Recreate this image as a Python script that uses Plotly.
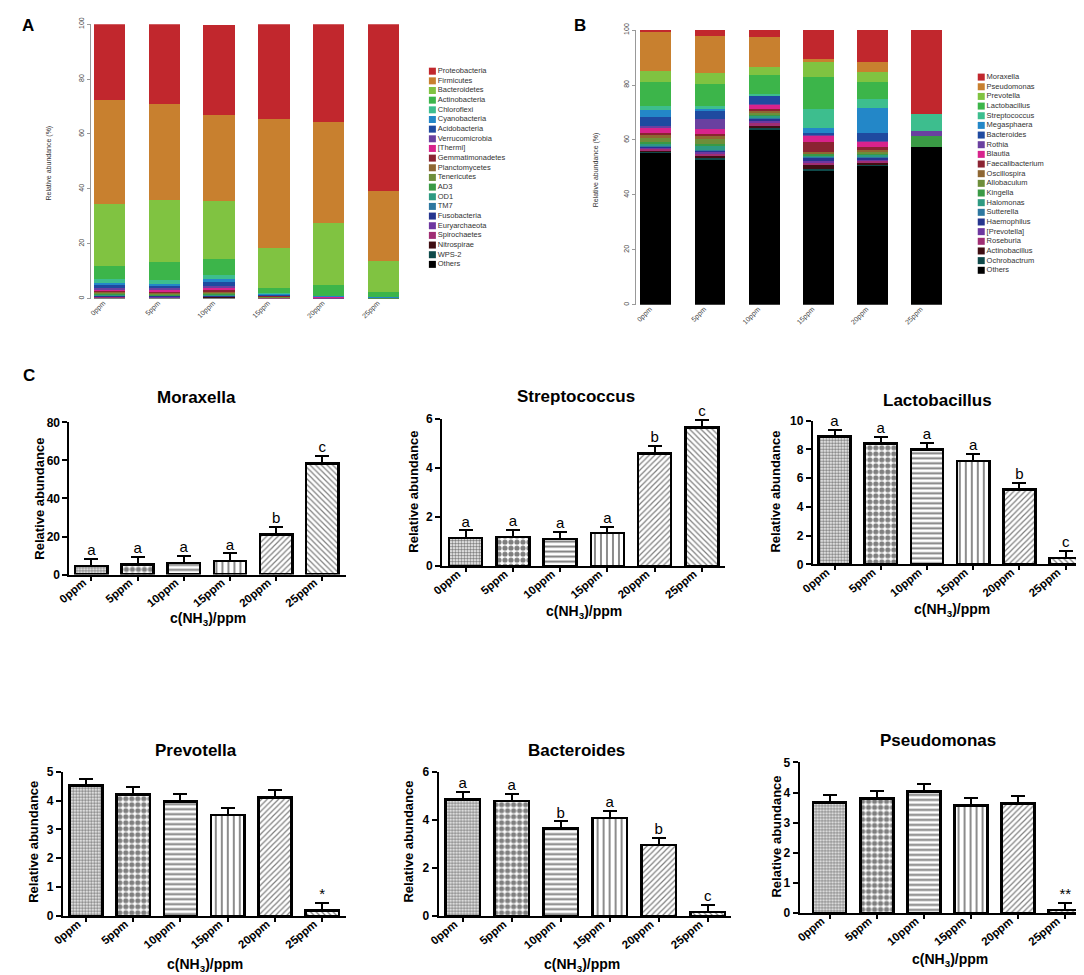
import plotly.graph_objects as go

W, H = 1084, 975

groups = ['0ppm', '5ppm', '10ppm', '15ppm', '20ppm', '25ppm']

# Panel A: phylum level relative abundance (%), listed top of stack first
phyla = ['Proteobacteria', 'Firmicutes', 'Bacteroidetes', 'Actinobacteria', 'Chloroflexi',
         'Cyanobacteria', 'Acidobacteria', 'Verrucomicrobia', '[Thermi]', 'Gemmatimonadetes',
         'Planctomycetes', 'Tenericutes', 'AD3', 'OD1', 'TM7', 'Fusobacteria', 'Euryarchaeota',
         'Spirochaetes', 'Nitrospirae', 'WPS-2', 'Others']
phylum_colors = ['#c1272d', '#c8802f', '#80c341', '#3cb54a', '#3dbe8e', '#2387c8', '#1f4aa0',
                 '#6a40a0', '#d8238c', '#8b2332', '#8e6733', '#6e8e3a', '#3a9a45', '#2e9a82',
                 '#2d77a0', '#26358f', '#6e37a0', '#a02e73', '#3f0e12', '#0f4a4a', '#000000']
phyla_0ppm = [27.8, 37.7, 22.5, 4.7, 1.5, 1.0, 0.8, 0.6, 0.5, 0.5, 0.4, 0.3, 0.3, 0.2, 0.2, 0.2, 0.2, 0.1, 0.1, 0.1, 0.3]
phyla_5ppm = [29.0, 34.9, 22.6, 6.9, 1.2, 0.6, 1.0, 0.7, 0.6, 0.4, 0.4, 0.3, 0.2, 0.2, 0.1, 0.2, 0.2, 0.1, 0.1, 0.1, 0.2]
phyla_10ppm = [32.9, 31.2, 21.4, 5.7, 1.6, 0.9, 1.6, 0.7, 0.6, 0.6, 0.5, 0.4, 0.3, 0.2, 0.2, 0.2, 0.1, 0.1, 0.3, 0.1, 0.2]
phyla_15ppm = [34.4, 47.3, 14.5, 1.9, 0.2, 0.3, 0.2, 0.1, 0.2, 0.1, 0.1, 0.2, 0.1, 0.1, 0.05, 0.05, 0.05, 0.05, 0.0, 0.0, 0.1]
phyla_20ppm = [35.6, 36.9, 22.7, 3.8, 0.1, 0.1, 0.1, 0.2, 0.1, 0.05, 0.05, 0.05, 0.05, 0.05, 0.05, 0.0, 0.05, 0.05, 0.0, 0.0, 0.05]
phyla_25ppm = [60.7, 25.8, 11.3, 1.6, 0.05, 0.15, 0.15, 0.05, 0.03, 0.03, 0.02, 0.02, 0.02, 0.02, 0.02, 0.01, 0.01, 0.01, 0.01, 0.01, 0.03]

# Panel B: genus level relative abundance (%)
genera = ['Moraxella', 'Pseudomonas', 'Prevotella', 'Lactobacillus', 'Streptococcus',
          'Megasphaera', 'Bacteroides', 'Rothia', 'Blautia', 'Faecalibacterium', 'Oscillospira',
          'Allobaculum', 'Kingella', 'Halomonas', 'Sutterella', 'Haemophilus', '[Prevotella]',
          'Roseburia', 'Actinobacillus', 'Ochrobactrum', 'Others']
genus_colors = phylum_colors
genus_0ppm = [0.5, 14.3, 4.2, 8.6, 1.6, 2.6, 3.0, 1.0, 1.8, 0.6, 1.2, 1.5, 0.4, 0.8, 0.4, 0.3, 0.5, 0.6, 0.2, 0.6, 55.3]
genus_5ppm = [2.0, 13.8, 3.8, 8.0, 1.3, 0.5, 2.8, 3.8, 1.8, 0.6, 1.2, 1.8, 0.6, 1.5, 0.5, 0.4, 0.8, 0.8, 0.4, 0.7, 52.9]
genus_10ppm = [2.6, 10.8, 2.9, 7.1, 0.3, 0.3, 3.0, 0.2, 1.6, 0.5, 0.7, 0.8, 0.4, 0.6, 0.6, 0.4, 1.2, 1.0, 0.4, 1.0, 63.6]
genus_15ppm = [10.6, 0.9, 5.5, 11.9, 6.9, 1.8, 0.3, 0.8, 2.2, 3.6, 0.3, 0.3, 0.7, 0.2, 0.3, 1.4, 0.4, 0.7, 1.8, 0.4, 49.0]
genus_20ppm = [11.6, 3.6, 3.8, 6.0, 3.3, 9.3, 2.6, 0.5, 1.9, 1.0, 0.6, 0.6, 0.5, 0.6, 0.6, 0.6, 0.5, 0.8, 0.5, 0.6, 50.5]
genus_25ppm = [30.7, 0, 0, 0, 6.0, 0, 0, 1.7, 0, 0, 0, 0, 4.2, 0, 0, 0, 0, 0, 0, 0, 57.4]

# Panel C: mean relative abundance, SE and significance letters
moraxella = [4.5, 5.2, 6.2, 7.1, 21.1, 58.4]
moraxella_se = [3.8, 4.0, 3.6, 4.0, 3.9, 3.9]
moraxella_sig = ['a', 'a', 'a', 'a', 'b', 'c']
streptococcus = [1.14, 1.19, 1.10, 1.34, 4.59, 5.66]
streptococcus_se = [0.31, 0.30, 0.28, 0.27, 0.31, 0.31]
streptococcus_sig = ['a', 'a', 'a', 'a', 'b', 'c']
lactobacillus = [8.9, 8.4, 8.0, 7.2, 5.2, 0.43]
lactobacillus_se = [0.48, 0.46, 0.48, 0.48, 0.49, 0.49]
lactobacillus_sig = ['a', 'a', 'a', 'a', 'b', 'c']
prevotella = [4.52, 4.21, 3.97, 3.50, 4.10, 0.19]
prevotella_se = [0.23, 0.25, 0.27, 0.25, 0.25, 0.27]
prevotella_sig = ['', '', '', '', '', '*']
bacteroides = [4.84, 4.79, 3.64, 4.07, 2.96, 0.18]
bacteroides_se = [0.32, 0.30, 0.30, 0.30, 0.29, 0.30]
bacteroides_sig = ['a', 'a', 'b', 'a', 'b', 'c']
pseudomonas = [3.67, 3.80, 4.03, 3.57, 3.64, 0.09]
pseudomonas_se = [0.26, 0.25, 0.24, 0.24, 0.25, 0.25]
pseudomonas_sig = ['', '', '', '', '', '**']

FONT = 'Liberation Sans'


def dom_x(left, right):
    return [left / W, right / W]


def dom_y(top, bottom):
    return [1 - bottom / H, 1 - top / H]


def axes(k):
    return ('x', 'y') if k == 1 else ('x%d' % k, 'y%d' % k)


fig = go.Figure()
layout = {}
notes = []


def note(text, x, y, size, bold=False, angle=0, color='black'):
    notes.append(dict(text=text, x=x / W, y=1 - y / H, xref='paper', yref='paper',
                      showarrow=False, textangle=angle, xanchor='center', yanchor='middle',
                      font=dict(family=FONT, size=size, color=color,
                                weight='bold' if bold else 'normal')))


# ---- panels A and B: stacked composition bars with their keys ----
def add_stack(k, names, colors, columns, box, xr):
    xa, ya = axes(k)
    # plotly stacks the first trace at the bottom, so go from 'Others' upwards
    for i in reversed(range(len(names))):
        fig.add_trace(go.Bar(x=groups, y=[col[i] for col in columns], name=names[i],
                             marker=dict(color=colors[i], line=dict(width=0)), width=0.57,
                             showlegend=False, xaxis=xa, yaxis=ya))
    left, right, top, bottom = box
    layout['xaxis' if k == 1 else 'xaxis%d' % k] = dict(
        domain=dom_x(left, right), anchor=ya, range=xr, showline=False, ticks='',
        tickangle=-45, ticklabelshift=-6, ticklabelstandoff=-2,
        tickfont=dict(size=7, color='#444'), showgrid=False)
    layout['yaxis' if k == 1 else 'yaxis%d' % k] = dict(
        domain=dom_y(top, bottom), anchor=xa, range=[0, 100], dtick=20, showline=True,
        linecolor='#999', linewidth=1.3, ticks='outside', ticklen=3, tickcolor='#999',
        tickangle=-90, tickfont=dict(size=7, color='#444'), showgrid=False, zeroline=False)


def add_key(k, names, colors, box):
    xa, ya = axes(k)
    fig.add_trace(go.Scatter(x=[0] * len(names), y=names, mode='markers+text', text=names,
                             textposition='middle right',
                             marker=dict(symbol='square', size=7, color=colors),
                             textfont=dict(size=7.5, color='#333'), cliponaxis=False,
                             showlegend=False, hoverinfo='skip', xaxis=xa, yaxis=ya))
    left, right, top, bottom = box
    layout['xaxis%d' % k] = dict(domain=dom_x(left, right), anchor=ya, range=[0, 1], visible=False)
    layout['yaxis%d' % k] = dict(domain=dom_y(top, bottom), anchor=xa, type='category',
                                 range=[len(names) - 0.5, -0.5], visible=False)


add_stack(1, phyla, phylum_colors,
          [phyla_0ppm, phyla_5ppm, phyla_10ppm, phyla_15ppm, phyla_20ppm, phyla_25ppm],
          (72, 386, 9.3, 287.7), [-0.33, 5.33])
add_key(2, phyla, phylum_colors, (417, 530, 52.1, 257.9))
add_stack(3, genera, genus_colors,
          [genus_0ppm, genus_5ppm, genus_10ppm, genus_15ppm, genus_20ppm, genus_25ppm],
          (623, 937, 15.3, 294), [-0.366, 5.37])
add_key(4, genera, genus_colors, (972, 1080, 58.1, 263.9))

note('Relative abundance (%)', 29, 150, 7, angle=-90, color='#333')
note('Relative abundance (%)', 582, 157, 7, angle=-90, color='#333')

# ---- panel C: GraphPad style bars with hatch fills ----
hatch = dict(shape=['.', '.', '-', '|', '/', '\\'], size=[3, 6, 5, 6, 4, 4],
             solidity=[0.55, 0.6, 0.4, 0.3, 0.3, 0.3], fgcolor='black', bgcolor='white')

c_panels = [
    ('Moraxella', moraxella, moraxella_se, moraxella_sig, 80, 20),
    ('Streptococcus', streptococcus, streptococcus_se, streptococcus_sig, 6, 2),
    ('Lactobacillus', lactobacillus, lactobacillus_se, lactobacillus_sig, 10, 2),
    ('Prevotella', prevotella, prevotella_se, prevotella_sig, 5, 1),
    ('Bacteroides', bacteroides, bacteroides_se, bacteroides_sig, 6, 2),
    ('Pseudomonas', pseudomonas, pseudomonas_se, pseudomonas_sig, 5, 1),
]
# plot box in px (left, right, top, bottom) and category range
c_boxes = [
    (50, 330, 413.3, 567.7, [-0.475, 5.52]),
    (426.7, 713, 410, 559, [-0.5, 5.49]),
    (801.7, 1081.7, 411.7, 557.3, [-0.47, 5.52]),
    (43.3, 330, 767.7, 914, [-0.49, 5.51]),
    (423.3, 719.3, 767.7, 914.3, [-0.49, 5.48]),
    (788.3, 1081.7, 758.3, 911, [-0.64, 5.52]),
]
c_title_pos = [(178, 388), (562, 387), (928, 391), (178, 746), (563, 746), (928, 736)]
c_ytitle_pos = [(20, 491), (397, 484), (764, 484), (14, 839), (393, 839), (764, 834)]
c_xtitle_pos = [(190, 613), (570, 606), (942, 604), (187, 964), (568, 964), (940, 959)]

for j, (name, mean, se, sig, ymax, step) in enumerate(c_panels):
    k = 5 + j
    xa, ya = axes(k)
    fig.add_trace(go.Bar(x=groups, y=mean, width=0.7, showlegend=False, xaxis=xa, yaxis=ya,
                         marker=dict(color='white', line=dict(color='black', width=2.5),
                                     pattern=hatch),
                         error_y=dict(type='data', symmetric=False, array=se,
                                      arrayminus=[0] * len(se), color='black',
                                      thickness=2, width=7)))
    # only groups that carry a significance mark
    marked = [i for i, s in enumerate(sig) if s]
    fig.add_trace(go.Scatter(x=[groups[i] for i in marked],
                             y=[mean[i] + se[i] for i in marked],
                             text=[sig[i] for i in marked],
                             mode='text', textposition='top center', cliponaxis=False,
                             textfont=dict(family=FONT, size=15, color='black'),
                             showlegend=False, hoverinfo='skip', xaxis=xa, yaxis=ya))
    left, right, top, bottom, xr = c_boxes[j]
    layout['xaxis%d' % k] = dict(
        domain=dom_x(left, right), anchor=ya, range=xr, showline=True, linecolor='black',
        linewidth=2, ticks='outside', ticklen=4, tickwidth=2, tickcolor='black',
        tickangle=-40, ticklabelstandoff=-9, ticklabelshift=-8, showgrid=False,
        tickfont=dict(family=FONT, size=11.5, color='black', weight='bold'))
    layout['yaxis%d' % k] = dict(
        domain=dom_y(top, bottom), anchor=xa, range=[0, ymax], dtick=step, showline=True,
        linecolor='black', linewidth=2, ticks='outside', ticklen=5, tickwidth=2,
        tickcolor='black', showgrid=False, zeroline=False,
        tickfont=dict(family=FONT, size=12, color='black', weight='bold'))
    note(name, *c_title_pos[j], 17, bold=True)
    note('Relative abundance', *c_ytitle_pos[j], 13, bold=True, angle=-90)
    note('c(NH<sub>3</sub>)/ppm', *c_xtitle_pos[j], 14, bold=True)

# panel letters
note('A', 8, 11, 17, bold=True)
note('B', 566, 11, 17, bold=True)
note('C', 9, 366, 17, bold=True)

fig.update_layout(width=W, height=H, margin=dict(l=0, r=0, t=0, b=0), barmode='stack',
                  paper_bgcolor='white', plot_bgcolor='rgba(0,0,0,0)',
                  font=dict(family=FONT), annotations=notes, **layout)

fig.write_html('out.html')
